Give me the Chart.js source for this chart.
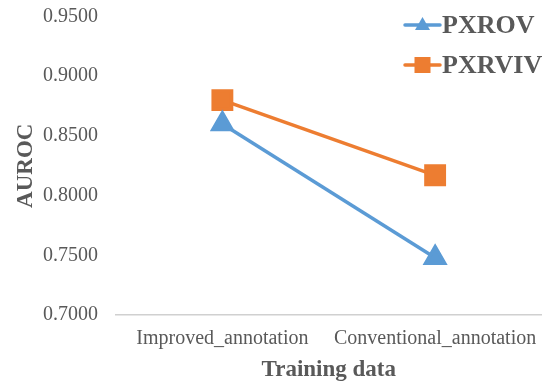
<!DOCTYPE html>
<html>
<head>
<meta charset="utf-8">
<script src="https://cdn.jsdelivr.net/npm/chart.js@4/dist/chart.umd.min.js"></script>
<style>
  html, body { margin: 0; padding: 0; background: #fff; }
  #wrap { width: 558px; height: 383px; position: relative; }
</style>
</head>
<body>
<div id="wrap"><canvas id="c" width="558" height="383"></canvas></div>
<script>
// Training-data variants on the x axis
const categories = ['Improved_annotation', 'Conventional_annotation'];
// AUROC per model
const pxrovValues = [0.860, 0.748];
const pxrvivValues = [0.880, 0.817];
// Y-axis tick labels
const yTickLabels = ['0.7000', '0.7500', '0.8000', '0.8500', '0.9000', '0.9500'];

const FONT = '"Liberation Serif", "Times New Roman", serif';
const TEXT = '#595959';

// Legend drawn in the top-right corner: short line, marker, bold label
const cornerLegend = {
  id: 'cornerLegend',
  afterDraw(chart) {
    const ctx = chart.ctx;
    const x0 = 405, x1 = 440, rows = [25, 65];
    chart.data.datasets.forEach((ds, i) => {
      const y = rows[i];
      ctx.save();
      ctx.strokeStyle = ds.borderColor;
      ctx.lineWidth = 3.5;
      ctx.lineCap = 'round';
      ctx.beginPath(); ctx.moveTo(x0, y); ctx.lineTo(x1, y); ctx.stroke();
      ctx.fillStyle = ds.pointBackgroundColor;
      const cx = (x0 + x1) / 2;
      if (ds.pointStyle === 'triangle') {
        ctx.beginPath();
        ctx.moveTo(cx, y - 8); ctx.lineTo(cx + 7.5, y + 5); ctx.lineTo(cx - 7.5, y + 5);
        ctx.closePath(); ctx.fill();
      } else {
        ctx.fillRect(cx - 8, y - 8, 16, 16);
      }
      ctx.fillStyle = TEXT;
      ctx.font = 'bold 26px ' + FONT;
      ctx.textBaseline = 'middle';
      ctx.textAlign = 'left';
      ctx.fillText(ds.label, x1 + 2, y + 1);
      ctx.restore();
    });
  }
};

new Chart(document.getElementById('c'), {
  type: 'line',
  data: {
    labels: categories,
    datasets: [
      {
        label: 'PXROV',
        data: pxrovValues,
        borderColor: '#5B9BD5',
        backgroundColor: '#5B9BD5',
        pointBackgroundColor: '#5B9BD5',
        pointBorderColor: '#5B9BD5',
        pointStyle: 'triangle',
        pointRadius: 11,
        borderWidth: 3.5
      },
      {
        label: 'PXRVIV',
        data: pxrvivValues,
        borderColor: '#ED7D31',
        backgroundColor: '#ED7D31',
        pointBackgroundColor: '#ED7D31',
        pointBorderColor: '#ED7D31',
        pointStyle: 'rect',
        pointRadius: 13,
        borderWidth: 3.5
      }
    ]
  },
  options: {
    responsive: false,
    animation: false,
    devicePixelRatio: 1,
    layout: { padding: { left: 0, right: 13, top: 15, bottom: 0 } },
    plugins: {
      legend: { display: false },
      tooltip: { enabled: false }
    },
    scales: {
      x: {
        offset: true,
        grid: { display: false, drawTicks: false },
        border: { display: true, color: '#d0d0d0', width: 1.5 },
        ticks: { color: TEXT, font: { family: FONT, size: 20 }, padding: 12, maxRotation: 0, autoSkip: false },
        title: {
          display: true, text: 'Training data', color: TEXT,
          font: { family: FONT, size: 23, weight: 'bold' }, padding: { top: 4, bottom: -1 }
        },
        afterFit(s) { s.height = 68; }
      },
      y: {
        min: 0.7, max: 0.95,
        // invisible tick marks provide the gap between labels and plot
        grid: { display: false, drawTicks: true, tickLength: 18, tickColor: 'rgba(0,0,0,0)' },
        border: { display: false },
        afterBuildTicks(s) {
          s.ticks = yTickLabels.map(t => ({ value: parseFloat(t) }));
        },
        ticks: {
          color: TEXT, font: { family: FONT, size: 20 }, padding: 0,
          callback(v) { return yTickLabels.find(t => Math.abs(parseFloat(t) - v) < 1e-9) || ''; }
        },
        title: {
          display: true, text: 'AUROC', color: TEXT,
          font: { family: FONT, size: 23, weight: 'bold' }, padding: { top: 12, bottom: 0 }
        },
        afterFit(s) { s.width = 116; }
      }
    }
  },
  plugins: [cornerLegend]
});
</script>
</body>
</html>
